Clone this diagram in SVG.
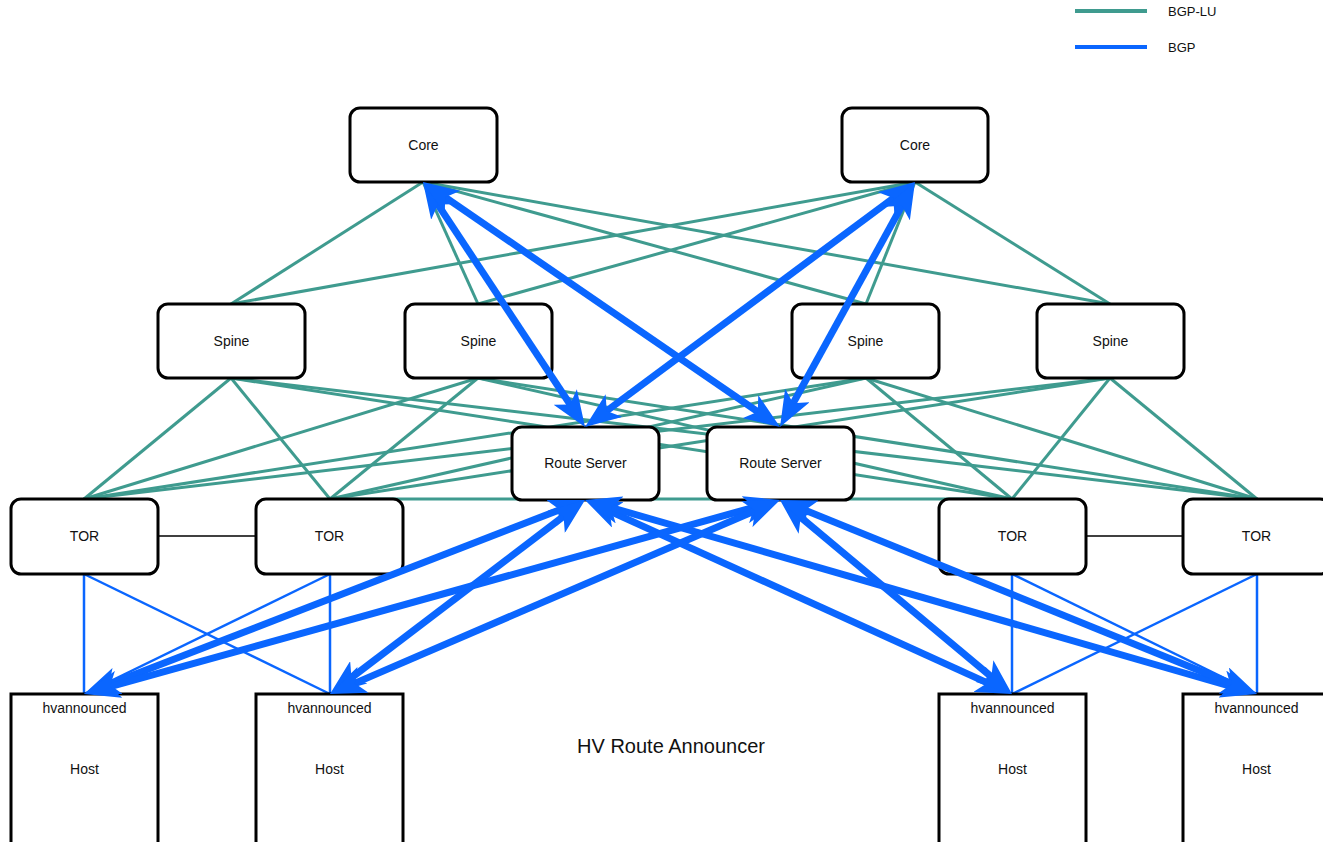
<svg xmlns="http://www.w3.org/2000/svg" width="1323" height="842" viewBox="0 0 1323 842">
<style>
.bg{fill:#ffffff}
.node{fill:#ffffff;stroke:#000000;stroke-width:3}
.lbl{font-family:"Liberation Sans",Arial,Helvetica,sans-serif;font-size:14px;fill:#111111;text-anchor:middle}
.lu{stroke:#3f9b8f;stroke-width:3;fill:none}
.bgp{stroke:#0a66ff;stroke-width:2.5;fill:none}
.bgpA{stroke:#0a66ff;stroke-width:7;fill:none;marker-start:url(#ah);marker-end:url(#ah)}
.peer{stroke:#000000;stroke-width:1.3}
.title{font-family:"Liberation Sans",Arial,Helvetica,sans-serif;font-size:20px;fill:#111111;text-anchor:middle}
.leg{font-family:"Liberation Sans",Arial,Helvetica,sans-serif;font-size:13px;fill:#111111}
</style>
<defs>
<marker id="ah" markerUnits="userSpaceOnUse" viewBox="0 0 36 28" markerWidth="36" markerHeight="28" refX="18" refY="14" orient="auto-start-reverse">
<path d="M0,0 L36,14 L0,28 L9,14 Z" fill="#0a66ff"/>
</marker>
</defs>
<rect class="bg" x="0" y="0" width="1323" height="842"/>

<g id="legend">
<line x1="1075" y1="11" x2="1147" y2="11" stroke="#3f9b8f" stroke-width="4"/>
<text class="leg" x="1168" y="16">BGP-LU</text>
<line x1="1075" y1="47" x2="1147" y2="47" stroke="#0a66ff" stroke-width="4"/>
<text class="leg" x="1168" y="52">BGP</text>
</g>

<g id="connectors">
<line class="lu" x1="423" y1="182" x2="231" y2="304"/>
<line class="lu" x1="423" y1="182" x2="478" y2="304"/>
<line class="lu" x1="423" y1="182" x2="866" y2="304"/>
<line class="lu" x1="423" y1="182" x2="1110" y2="304"/>
<line class="lu" x1="915" y1="182" x2="231" y2="304"/>
<line class="lu" x1="915" y1="182" x2="478" y2="304"/>
<line class="lu" x1="915" y1="182" x2="866" y2="304"/>
<line class="lu" x1="915" y1="182" x2="1110" y2="304"/>
<line class="lu" x1="231" y1="378" x2="84" y2="499"/>
<line class="lu" x1="231" y1="378" x2="330" y2="499"/>
<line class="lu" x1="231" y1="378" x2="1012" y2="499"/>
<line class="lu" x1="231" y1="378" x2="1257" y2="499"/>
<line class="lu" x1="478" y1="378" x2="84" y2="499"/>
<line class="lu" x1="478" y1="378" x2="330" y2="499"/>
<line class="lu" x1="478" y1="378" x2="1012" y2="499"/>
<line class="lu" x1="478" y1="378" x2="1257" y2="499"/>
<line class="lu" x1="866" y1="378" x2="84" y2="499"/>
<line class="lu" x1="866" y1="378" x2="330" y2="499"/>
<line class="lu" x1="866" y1="378" x2="1012" y2="499"/>
<line class="lu" x1="866" y1="378" x2="1257" y2="499"/>
<line class="lu" x1="1110" y1="378" x2="84" y2="499"/>
<line class="lu" x1="1110" y1="378" x2="330" y2="499"/>
<line class="lu" x1="1110" y1="378" x2="1012" y2="499"/>
<line class="lu" x1="1110" y1="378" x2="1257" y2="499"/>
<line class="lu" x1="330" y1="499" x2="1012" y2="499"/>
<line class="peer" x1="158" y1="536" x2="256" y2="536"/>
<line class="peer" x1="1086" y1="536" x2="1183" y2="536"/>
<line class="bgp" x1="84" y1="574" x2="84" y2="694"/>
<line class="bgp" x1="84" y1="574" x2="330" y2="694"/>
<line class="bgp" x1="330" y1="574" x2="330" y2="694"/>
<line class="bgp" x1="330" y1="574" x2="84" y2="694"/>
<line class="bgp" x1="1012" y1="574" x2="1012" y2="694"/>
<line class="bgp" x1="1012" y1="574" x2="1257" y2="694"/>
<line class="bgp" x1="1257" y1="574" x2="1257" y2="694"/>
<line class="bgp" x1="1257" y1="574" x2="1012" y2="694"/>
</g>

<g id="core1"><rect class="node" x="350" y="108" width="147" height="74" rx="10"/><text class="lbl" x="423.5" y="150">Core</text></g>
<g id="core2"><rect class="node" x="842" y="108" width="146" height="74" rx="10"/><text class="lbl" x="915" y="150">Core</text></g>

<g id="spine1"><rect class="node" x="158" y="304" width="147" height="74" rx="10"/><text class="lbl" x="231.5" y="346">Spine</text></g>
<g id="spine2"><rect class="node" x="405" y="304" width="147" height="74" rx="10"/><text class="lbl" x="478.5" y="346">Spine</text></g>
<g id="spine3"><rect class="node" x="792" y="304" width="147" height="74" rx="10"/><text class="lbl" x="865.5" y="346">Spine</text></g>
<g id="spine4"><rect class="node" x="1037" y="304" width="147" height="74" rx="10"/><text class="lbl" x="1110.5" y="346">Spine</text></g>

<g id="rs1"><rect class="node" x="512" y="427" width="147" height="73" rx="10"/><text class="lbl" x="585.5" y="468">Route Server</text></g>
<g id="rs2"><rect class="node" x="707" y="427" width="147" height="73" rx="10"/><text class="lbl" x="780.5" y="468">Route Server</text></g>

<g id="tor1"><rect class="node" x="11" y="499" width="147" height="75" rx="10"/><text class="lbl" x="84.5" y="541">TOR</text></g>
<g id="tor2"><rect class="node" x="256" y="499" width="147" height="75" rx="10"/><text class="lbl" x="329.5" y="541">TOR</text></g>
<g id="tor3"><rect class="node" x="939" y="499" width="147" height="75" rx="10"/><text class="lbl" x="1012.5" y="541">TOR</text></g>
<g id="tor4"><rect class="node" x="1183" y="499" width="147" height="75" rx="10"/><text class="lbl" x="1256.5" y="541">TOR</text></g>

<g id="host1"><rect class="node" x="11" y="694" width="147" height="160"/><text class="lbl" x="84.5" y="713">hvannounced</text><text class="lbl" x="84.5" y="774">Host</text></g>
<g id="host2"><rect class="node" x="256" y="694" width="147" height="160"/><text class="lbl" x="329.5" y="713">hvannounced</text><text class="lbl" x="329.5" y="774">Host</text></g>
<g id="host3"><rect class="node" x="939" y="694" width="147" height="160"/><text class="lbl" x="1012.5" y="713">hvannounced</text><text class="lbl" x="1012.5" y="774">Host</text></g>
<g id="host4"><rect class="node" x="1183" y="694" width="147" height="160"/><text class="lbl" x="1256.5" y="713">hvannounced</text><text class="lbl" x="1256.5" y="774">Host</text></g>

<g id="bgp-sessions">
<line class="bgpA" x1="432.9" y1="197.0" x2="575.1" y2="412.0"/>
<line class="bgpA" x1="437.8" y1="192.2" x2="765.2" y2="416.8"/>
<line class="bgpA" x1="900.5" y1="192.7" x2="599.5" y2="416.3"/>
<line class="bgpA" x1="906.3" y1="197.8" x2="788.7" y2="411.2"/>
<line class="bgpA" x1="568.2" y1="506.5" x2="100.8" y2="687.5"/>
<line class="bgpA" x1="570.7" y1="510.9" x2="344.3" y2="683.1"/>
<line class="bgpA" x1="601.4" y1="507.4" x2="995.6" y2="686.6"/>
<line class="bgpA" x1="602.3" y1="505.0" x2="1239.7" y2="689.0"/>
<line class="bgpA" x1="762.7" y1="504.8" x2="101.3" y2="689.2"/>
<line class="bgpA" x1="763.5" y1="507.1" x2="346.5" y2="686.9"/>
<line class="bgpA" x1="793.8" y1="511.5" x2="998.2" y2="682.5"/>
<line class="bgpA" x1="796.7" y1="506.8" x2="1240.3" y2="687.2"/>
</g>

<text class="title" x="671" y="753">HV Route Announcer</text>
</svg>
